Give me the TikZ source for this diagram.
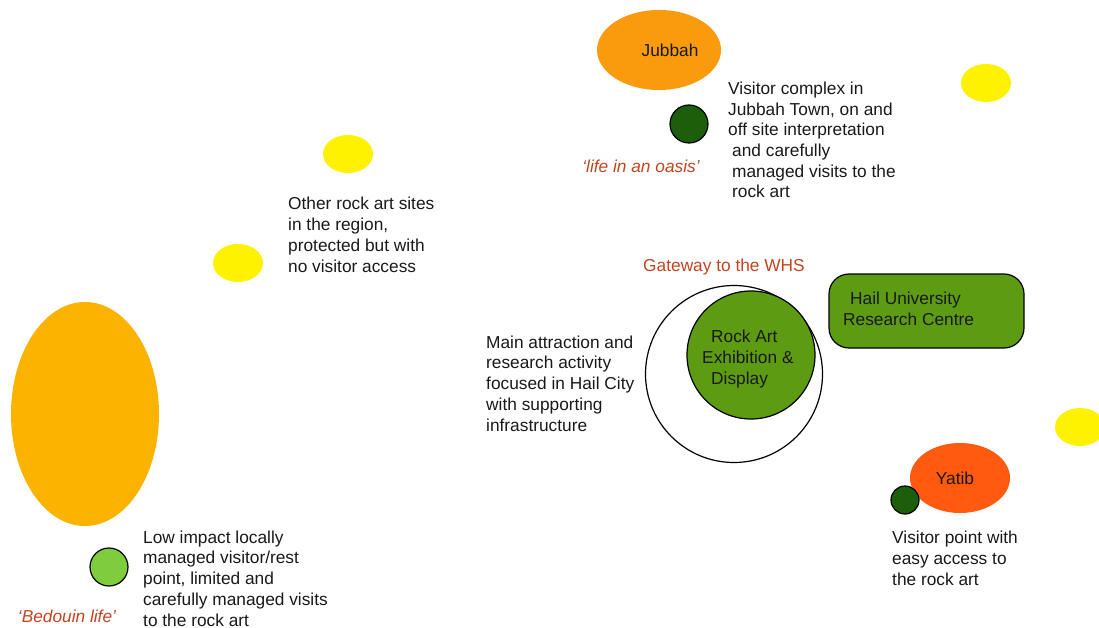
\documentclass[tikz,border=0pt]{standalone}
\usepackage{fontspec}
\setmainfont{Liberation Sans}
\usetikzlibrary{shapes.geometric}
\definecolor{jubbahor}{HTML}{F99B0C}
\definecolor{bedor}{HTML}{FBB300}
\definecolor{ylw}{HTML}{FFF200}
\definecolor{dkgreen}{HTML}{1D5E0B}
\definecolor{ltgreen}{HTML}{7FCC3C}
\definecolor{midgreen}{HTML}{5C9B12}
\definecolor{yatibor}{HTML}{FF5A0F}
\definecolor{lblred}{HTML}{C2441E}
\begin{document}
\begin{tikzpicture}[x=1pt,y=-1pt,
  txt/.style={anchor=base west,inner sep=0pt,align=left,font=\fontsize{17.3}{20.7}\selectfont,text=black!90},
  lbl/.style={inner sep=0pt,font=\fontsize{17.3}{20}\selectfont\itshape,text=lblred},
  site/.style={ellipse,fill=ylw,minimum width=50pt,minimum height=38pt,inner sep=0pt},
  dot/.style={circle,draw=black,line width=1.2pt,inner sep=0pt},
  bigtxt/.style={font=\fontsize{17.3}{20.7}\selectfont,text=black!90,align=left}]
\useasboundingbox (0,0) rectangle (1099,628);
% Jubbah
\node[ellipse,fill=jubbahor,minimum width=124pt,minimum height=80pt,inner sep=0pt] (jubbah) at (659,50) {};
\node[bigtxt] (jubbahtxt) at (670,50) {Jubbah};
\node[dot,fill=dkgreen,minimum size=38pt] (jdot) at (689,124) {};
\node[lbl] (oasis) at (641,166) {`life in an oasis'};
\node[txt] (jubbahdesc) at (728,198) {Visitor complex in\\Jubbah Town, on and\\off site interpretation\\\hspace*{4pt}and carefully\\\hspace*{4pt}managed visits to the\\\hspace*{4pt}rock art};
% yellow sites
\node[site] (s1) at (986,83) {};
\node[site] (s2) at (348,154) {};
\node[site] (s3) at (238,263) {};
\node[site] (s4) at (1080,427) {};
\node[txt] (othertxt) at (288,272) {Other rock art sites\\in the region,\\protected but with\\no visitor access};
% Bedouin
\node[ellipse,fill=bedor,minimum width=148pt,minimum height=224pt,inner sep=0pt] (bedouin) at (85,414) {};
\node[dot,fill=ltgreen,minimum size=38pt] (bdot) at (109,567) {};
\node[lbl] (bedlbl) at (67,616) {`Bedouin life'};
\node[txt] (bedtxt) at (143,626) {Low impact locally\\managed visitor/rest\\point, limited and\\carefully managed visits\\to the rock art};
% Hail
\node[font=\fontsize{17.3}{20}\selectfont,text=lblred,inner sep=0pt] (gateway) at (724,267) {Gateway to the WHS};
\node[circle,draw=black,line width=1.2pt,fill=white,minimum size=177pt,inner sep=0pt] (hail) at (734,374) {};
\node[circle,draw=black,line width=1.2pt,fill=midgreen,minimum size=128pt,inner sep=0pt] (rockart) at (751,355) {};
\node[txt] (rocktxt) at (702,384) {\hspace*{9pt}Rock Art\\Exhibition \&\\\hspace*{9pt}Display};
\node[draw=black,line width=1.2pt,fill=midgreen,rounded corners=20pt,minimum width=195pt,minimum height=74pt,inner sep=0pt] (uni) at (926.5,311) {};
\node[txt] (unitxt) at (843,325) {\hspace*{7pt}Hail University\\Research Centre};
\node[txt] (maintxt) at (486,431) {Main attraction and\\research activity\\focused in Hail City\\with supporting\\infrastructure};
% Yatib
\node[ellipse,fill=yatibor,minimum width=100pt,minimum height=70pt,inner sep=0pt] (yatib) at (960,478) {};
\node[bigtxt] (yatibtxt) at (955,478) {Yatib};
\node[dot,fill=dkgreen,minimum size=28pt] (ydot) at (905,500) {};
\node[txt] (yatibdesc) at (892,585) {Visitor point with\\easy access to\\the rock art};
\end{tikzpicture}
\end{document}
